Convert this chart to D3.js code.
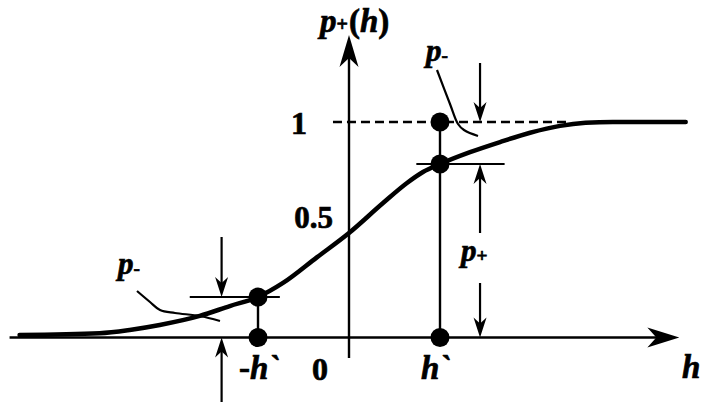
<!DOCTYPE html>
<html><head><meta charset="utf-8">
<script src="https://cdn.jsdelivr.net/npm/d3@7"></script>
<style>html,body{margin:0;background:#fff;overflow:hidden}</style>
</head><body><svg id="c" width="703" height="408"></svg>
<script>
// ---- data (h in units of h`, p = probability) ----
const curveH = [-3.62,-2.74,-2.41,-2.08,-1.64,-1.31,-1.0,-0.725,-0.35,0,0.374,0.637,0.813,1.0,1.33,1.66,1.99,2.32,2.6,2.9,3.70];
const curveP = [0.012,0.02,0.035,0.058,0.10,0.146,0.188,0.253,0.373,0.485,0.624,0.717,0.768,0.805,0.86,0.907,0.95,0.982,0.996,1.0,1.0];
const markedH = [-1, 1];          // -h`, h`
const markedP = [0.188, 0.805];   // p+ at -h`, h`
const yTicks = [1, 0.5];
const yTickLabels = ["1", "0.5"];
const originLabel = "0";
const hLabels = ["-h`", "h`"];
const axisLabelX = "h";
const axisLabelY = ["p", "+", "(", "h", ")"];

// ---- layout ----
const svg = d3.select("#c");
const x = d3.scaleLinear().domain([-1, 1]).range([258, 440]);
const y = d3.scaleLinear().domain([0, 1]).range([337.5, 122]);
const FONT = "'Liberation Serif','Times New Roman',serif";
const ink = "#000";

function arrowHead(tx, ty, dir, len, hw, notch) {
  let p;
  if (dir === "right") p = [[tx,ty],[tx-len,ty-hw],[tx-len+notch,ty],[tx-len,ty+hw]];
  else if (dir === "up") p = [[tx,ty],[tx-hw,ty+len],[tx,ty+len-notch],[tx+hw,ty+len]];
  else p = [[tx,ty],[tx-hw,ty-len],[tx,ty-len+notch],[tx+hw,ty-len]];
  svg.append("path").attr("d", "M" + p.map(d => d.join(",")).join("L") + "Z").attr("fill", ink);
}
function seg(x1, y1, x2, y2, w, dash) {
  const l = svg.append("line").attr("x1", x1).attr("y1", y1).attr("x2", x2).attr("y2", y2)
    .attr("stroke", ink).attr("stroke-width", w).attr("stroke-linecap", "butt");
  if (dash) l.attr("stroke-dasharray", dash);
  return l;
}
function arrow(px, fromY, toY, dir) {
  seg(px, fromY, px, dir === "down" ? toY - 12 : toY + 12, 2.2);
  arrowHead(px, toY, dir, 20, 6.5, 6);
}

// axes
const hMin = -3.73, hMax = 3.63, pMin = -0.095, pMax = 1.404;
seg(x(hMin), y(0), x(hMax) - 20, y(0), 2.6);
arrowHead(x(hMax), y(0), "right", 32, 10, 9);
seg(x(0), y(pMin), x(0), y(pMax) + 20, 2.4);
arrowHead(x(0), y(pMax), "up", 32, 9.5, 9);

// dashed level p = 1
seg(x(-0.176), y(1), x(2.4), y(1), 2.6, "9,5");

// sigmoid curve
const pts = curveH.map((h, i) => [h, curveP[i]]);
svg.append("path").datum(pts)
  .attr("d", d3.line().x(d => x(d[0])).y(d => y(d[1])).curve(d3.curveMonotoneX))
  .attr("fill", "none").attr("stroke", ink).attr("stroke-width", 4.5).attr("stroke-linecap", "round");

// verticals at -h` and h`
seg(x(markedH[0]), y(markedP[0]), x(markedH[0]), y(0), 2.4);
seg(x(markedH[1]), y(1), x(markedH[1]), y(0), 2.4);

// dimension ticks
seg(x(-1.75), y(markedP[0]), x(-0.76), y(markedP[0]), 2.2);
seg(x(0.74), y(markedP[1]), x(1.71), y(markedP[1]), 2.2);

// dimension arrows
const la = x(-1.40), ra = x(1.44);
arrow(la, 237, y(markedP[0]), "down");
arrow(la, 402, y(0), "up");
arrow(ra, 63, y(1), "down");
arrow(ra, 233, y(markedP[1]), "up");
arrow(ra, 283, y(0), "down");

// dots
const dots = [[markedH[0], 0], [markedH[0], markedP[0]], [markedH[1], 0], [markedH[1], markedP[1]], [markedH[1], 1]];
svg.selectAll("circle.dot").data(dots).enter().append("circle")
  .attr("cx", d => x(d[0])).attr("cy", d => y(d[1])).attr("r", 9.5).attr("fill", ink);

// pointer lines for p-
const ptr = d3.line().curve(d3.curveCatmullRom.alpha(0.5));
svg.append("path").attr("d", ptr([[437, 70], [450, 104], [458, 124], [464, 130], [478, 136]]))
  .attr("fill", "none").attr("stroke", ink).attr("stroke-width", 2.2);
svg.append("path").attr("d", ptr([[137, 291], [150, 302], [160, 310], [175, 313], [200, 316], [220, 321]]))
  .attr("fill", "none").attr("stroke", ink).attr("stroke-width", 2.2);

// ---- text ----
function txt(px, py, size, anchor) {
  return svg.append("text").attr("x", px).attr("y", py).attr("font-family", FONT)
    .attr("font-weight", "bold").attr("font-size", size).attr("text-anchor", anchor || "start")
    .attr("fill", ink).attr("stroke", ink).attr("stroke-width", 0.7);
}
function pLabel(px, py, sign, size) {
  const t = txt(px, py, size);
  t.append("tspan").attr("font-style", "italic").text("p");
  t.append("tspan").attr("font-size", size * 0.62).attr("dy", 1).text(sign);
  return t;
}
// tick labels
txt(307, y(yTicks[0]) + 12, 32, "end").text(yTickLabels[0]);
txt(333, y(yTicks[1]) - 2, 31, "end").text(yTickLabels[1]);
txt(328, 380, 32, "end").text(originLabel);

// axis labels
txt(682, 378, 33).attr("font-style", "italic").text(axisLabelX);
const yl = txt(320, 32, 33);
yl.append("tspan").attr("font-style", "italic").text(axisLabelY[0]);
yl.append("tspan").attr("font-size", 20).attr("dy", -1).text(axisLabelY[1]);
yl.append("tspan").attr("dy", 1).attr("dx", 1).text(axisLabelY[2]);
yl.append("tspan").attr("font-style", "italic").text(axisLabelY[3]);
yl.append("tspan").text(axisLabelY[4]);

// h` labels
const hl0 = txt(x(markedH[0]) - 19, 379, 33);
hl0.append("tspan").text("-");
hl0.append("tspan").attr("font-style", "italic").text("h`");
txt(x(markedH[1]) - 19, 379, 33).attr("font-style", "italic").text(hLabels[1]);

// p labels
pLabel(426, 61, "-", 31);
pLabel(118, 274, "-", 31);
pLabel(461, 261, "+", 31);
</script></body></html>
